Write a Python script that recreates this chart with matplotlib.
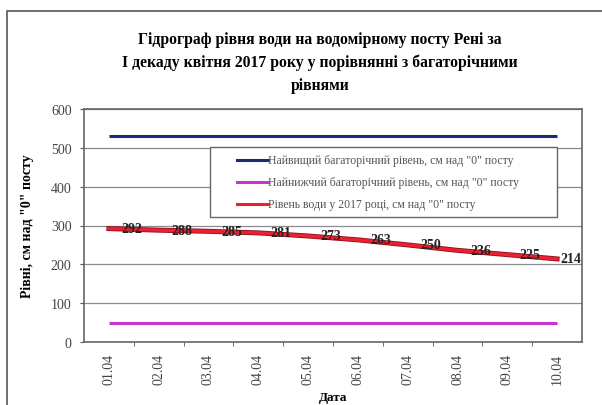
import matplotlib.pyplot as plt
import matplotlib.patheffects as pe
from matplotlib.lines import Line2D
from matplotlib.patches import Rectangle

plt.rcParams['font.family'] = ['Liberation Serif', 'DejaVu Serif']

dates = ['01.04', '02.04', '03.04', '04.04', '05.04',
         '06.04', '07.04', '08.04', '09.04', '10.04']
level_2017 = [292, 288, 285, 281, 273, 263, 250, 236, 225, 214]
level_max = [530] * len(dates)
level_min = [50] * len(dates)

labels = ['Найвищий багаторічний рівень, см над "0" посту',
          'Найнижчий багаторічний рівень, см над "0" посту',
          'Рівень води у 2017 році, см над "0" посту']
colors = ['#202878', '#cc33cc', '#ee2030']

W, H = 602, 406
fig = plt.figure(figsize=(W / 100, H / 100), dpi=100)
ax = fig.add_axes([84 / W, 1 - 343 / H, (582 - 84) / W, (343 - 110) / H])

x = list(range(len(dates)))
ax.plot(x, level_max, color=colors[0], lw=2.2, solid_capstyle='butt')
ax.plot(x, level_min, color=colors[1], lw=2.2, solid_capstyle='butt')
ax.plot(x, level_2017, color=colors[2], lw=2.4,
        path_effects=[pe.Stroke(linewidth=3.6, foreground='#8a1020'), pe.Normal()])

for xi, v in zip(x, level_2017):
    dx = 9 if xi < len(x) - 1 else 2
    ax.annotate(str(v), (xi, v), xytext=(dx, 0), textcoords='offset points',
                ha='left', va='center', fontsize=10, fontweight='bold', color='#222222')

ax.set_xlim(-0.5, len(dates) - 0.5)
ax.set_ylim(0, 600)
ax.set_yticks(range(0, 601, 100))
ax.set_xticks(x)
ax.set_xticklabels(dates, rotation=90, fontsize=10, color='#444444')
ax.set_xticks([i + 0.5 for i in x[:-1]], minor=True)
ax.tick_params(axis='x', which='major', length=0, pad=8)
ax.tick_params(axis='x', which='minor', length=3, direction='out', color='#555555')
ax.tick_params(axis='y', length=3, direction='out', color='#555555', labelsize=10,
               labelcolor='#444444', pad=6)
ax.grid(axis='y', color='#8c8c8c', lw=0.9)
ax.set_axisbelow(True)
for s in ax.spines.values():
    s.set_color('#666666')
    s.set_linewidth(1.2)

ax.set_ylabel('Рівні, см над "0" посту', fontsize=10, fontweight='bold', labelpad=12)
ax.set_xlabel('Дата', fontsize=9.5, fontweight='bold', labelpad=5)

fig.text(0.532, 1 - 63 / H,
         'Гідрограф рівня води на водомірному посту Рені за\n'
         'І декаду квітня 2017 року у порівнянні з багаторічними\nрівнями',
         ha='center', va='center', fontsize=11.3, fontweight='bold', linespacing=1.55)

# legend box, drawn in figure pixels
def px(xp, yp):
    return xp / W, 1 - yp / H

fig.add_artist(Rectangle(px(210, 218), (557 - 210) / W, (218 - 148) / H,
                         transform=fig.transFigure, facecolor='white',
                         edgecolor='#666666', lw=1.0, zorder=5))
for row, (lab, col) in enumerate(zip(labels, colors)):
    yp = 161 + 22 * row
    x0, y0 = px(237, yp)
    x1, _ = px(268, yp)
    fig.add_artist(Line2D([x0, x1], [y0, y0], transform=fig.transFigure,
                          color=col, lw=2.2, zorder=6))
    fig.text(x1, y0, lab, ha='left', va='center', fontsize=8.5,
             color='#555555', zorder=6)

# outer chart frame
fig.add_artist(Rectangle((7 / W, -0.01), 1.0, (H - 12) / H + 0.01,
                         transform=fig.transFigure, fill=False,
                         edgecolor='#555555', lw=1.2))

fig.savefig('out.png', dpi=100)
